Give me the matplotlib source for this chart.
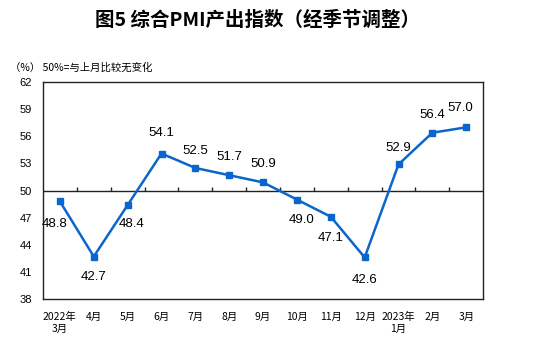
import numpy as np
import matplotlib.pyplot as plt

plt.rcParams['font.family'] = ['Noto Sans CJK SC', 'DejaVu Sans']

months = ['2022年\n3月', '4月', '5月', '6月', '7月', '8月', '9月', '10月',
          '11月', '12月', '2023年\n1月', '2月', '3月']
pmi = [48.8, 42.7, 48.4, 54.1, 52.5, 51.7, 50.9, 49.0, 47.1, 42.6, 52.9, 56.4, 57.0]
# label offsets in points (dx, dy)
offsets = [(-4, -16), (0, -15), (3, -14), (0, 15), (0, 12), (0, 13), (0, 13),
           (3, -15), (0, -15), (0, -16), (0, 12), (0, 13), (-4, 14)]

fig = plt.figure(figsize=(5.54, 3.45), dpi=100)
ax = fig.add_axes([0.0776, 0.1333, 0.7946, 0.6287])

x = np.arange(len(pmi))
blue = '#0a66cc'
ax.plot(x, pmi, color=blue, lw=1.8, marker='s', ms=4.5, zorder=3)

for xi, v, (dx, dy) in zip(x, pmi, offsets):
    ax.annotate(f'{v:.1f}', (xi, v), xytext=(dx, dy), textcoords='offset points',
                ha='center', va='center', fontsize=9.5, family='Liberation Sans')

ax.set_xlim(-0.5, len(pmi) - 0.5)
ax.set_ylim(38, 62)
ax.set_yticks(np.arange(38, 63, 3))
ax.set_yticklabels([str(t) for t in range(38, 63, 3)], family='Liberation Sans', fontsize=8)
ax.set_xticks(x)
ax.set_xticklabels(months, fontsize=7.5, linespacing=1.25)
ax.tick_params(axis='x', length=0, pad=9)
ax.tick_params(axis='y', length=0, pad=8)

# 50 line with small upward ticks at category boundaries
ax.axhline(50, color='#222222', lw=1)
ax.vlines(np.arange(0.5, len(pmi) - 1), 50, 50.35, color='#222222', lw=1)

for s in ax.spines.values():
    s.set_color('#222222')
    s.set_linewidth(1)

fig.text(0.465, 0.94, '图5 综合PMI产出指数（经季节调整）', ha='center', va='center',
         fontsize=14, fontweight='bold')
fig.text(0.018, 0.805, '（%） 50%=与上月比较无变化', ha='left', va='center', fontsize=7.5)

fig.savefig('out.png', dpi=100)
